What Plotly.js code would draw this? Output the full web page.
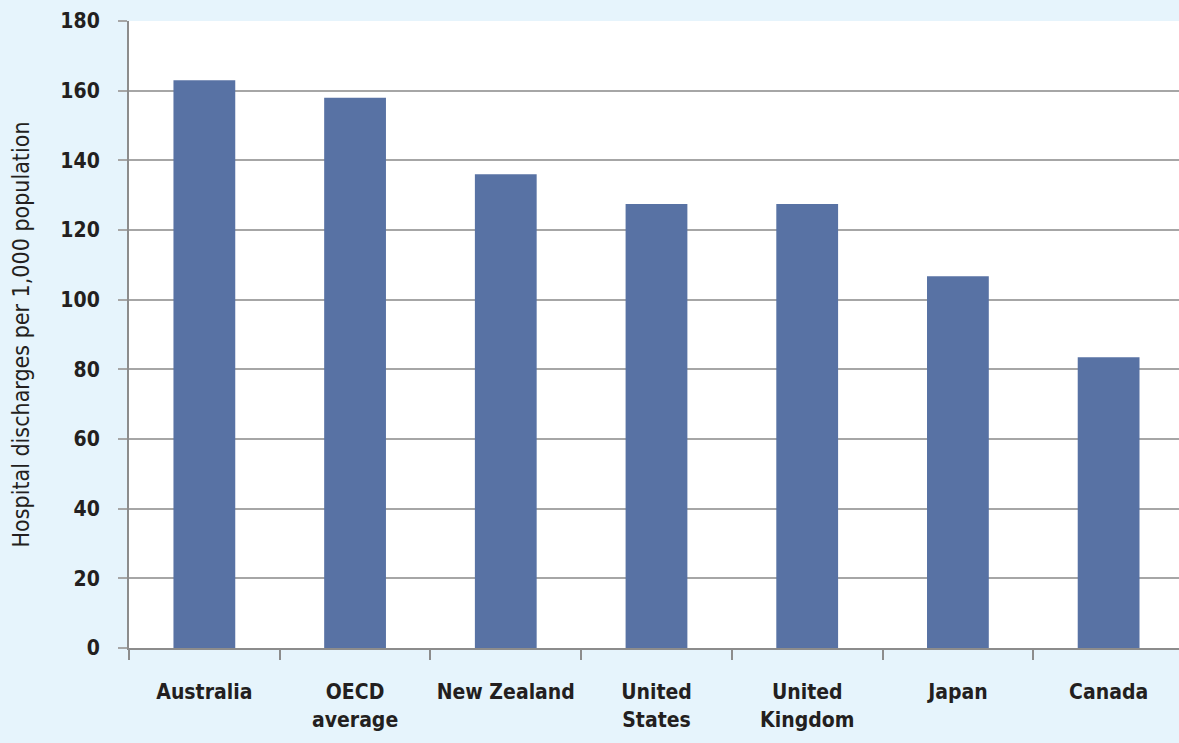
<!DOCTYPE html>
<html>
<head>
<meta charset="utf-8">
<script src="https://cdn.plot.ly/plotly-3.0.1.min.js"></script>
<style>html,body{margin:0;padding:0;background:#e6f4fc;}</style>
</head>
<body>
<div id="chart" style="width:1179px;height:743px;"></div>
<script>
const categories = ["Australia", "OECD<br>average", "New Zealand", "United<br>States", "United<br>Kingdom", "Japan", "Canada"];
const discharges = [163, 158, 136, 127.5, 127.5, 106.7, 83.5];
const yTicks = [0, 20, 40, 60, 80, 100, 120, 140, 160, 180];
const yTitle = "Hospital discharges per 1,000 population";

const FONT = "'DejaVu Sans Condensed', 'Liberation Sans Narrow', sans-serif";

const trace = {
  type: "bar",
  x: categories,
  y: discharges,
  marker: {color: "#5872a4", line: {width: 0}},
  hoverinfo: "x+y"
};

const layout = {
  width: 1179,
  height: 743,
  paper_bgcolor: "#e6f4fc",
  plot_bgcolor: "#ffffff",
  margin: {l: 129, r: 0, t: 21, b: 95},
  bargap: 0.59,
  showlegend: false,
  font: {family: FONT, color: "#231f20", size: 20},
  xaxis: {
    type: "category",
    range: [-0.5, 6.467],
    tickson: "boundaries",
    ticks: "outside",
    ticklen: 10,
    tickwidth: 2,
    tickcolor: "#8c8c8c",
    showline: true,
    linecolor: "#8c8c8c",
    linewidth: 2,
    showgrid: false,
    ticklabelstandoff: 24,
    tickfont: {family: FONT, size: 21, color: "#231f20", weight: "bold"},
    fixedrange: true
  },
  yaxis: {
    range: [0, 180],
    tickvals: yTicks,
    ticktext: yTicks.map(String),
    ticks: "outside",
    ticklen: 9,
    tickwidth: 2,
    tickcolor: "#a6a6a6",
    showline: true,
    linecolor: "#8c8c8c",
    linewidth: 2,
    showgrid: true,
    gridcolor: "#a6a6a6",
    gridwidth: 2,
    zeroline: false,
    ticklabelstandoff: 14,
    tickfont: {family: FONT, size: 21, color: "#231f20", weight: "bold"},
    title: {text: yTitle, standoff: 24, font: {family: FONT, size: 23, color: "#231f20"}},
    fixedrange: true
  }
};

Plotly.newPlot("chart", [trace], layout, {displayModeBar: false, staticPlot: true});
</script>
</body>
</html>
